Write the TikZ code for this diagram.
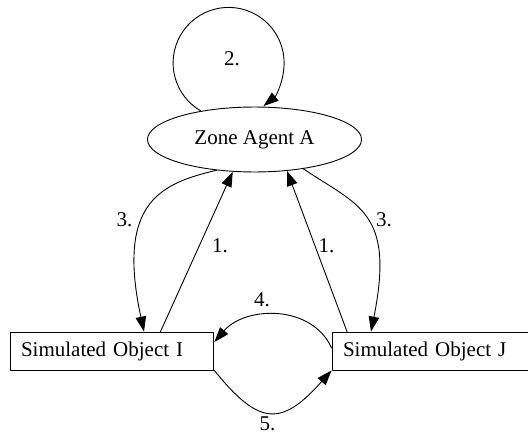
\documentclass[tikz,border=0pt]{standalone}
\usepackage{fontspec}
\setmainfont{Liberation Serif}
\usetikzlibrary{arrows.meta}
\usetikzlibrary{shapes.geometric}
\usetikzlibrary{calc}

\begin{document}
\begin{tikzpicture}[x=0.6667pt,y=0.6667pt,line cap=round,line join=round,>={Triangle[length=10pt,width=7pt]},
    every node/.style={font=\fontsize{14pt}{17pt}\selectfont},
    agentnode/.style={draw,ellipse,line width=0.6pt,minimum width=142.7pt,minimum height=43.3pt,inner sep=0pt},
    objnode/.style={draw,rectangle,line width=0.6pt,minimum height=25.3pt,inner xsep=7.3pt,inner ysep=0pt,align=left},
    msg/.style={->,line width=0.6pt},
    lbl/.style={inner sep=0pt}]
  \useasboundingbox (0,0) rectangle (528,434);
  \node[agentnode] (agent) at (254.5,294.5) {Zone Agent A};
  \node[objnode,text width=121.3pt] (objI) at (112,83) {Simulated Object I};
  \node[objnode,text width=116pt] (objJ) at (430,83) {Simulated Object J};
  % self loop
  \draw[msg] (agent.152) arc[start angle=240,end angle=-51,radius=55.5];
  \node[lbl] (lab2) at (232,375) {2.};
  % objects to agent
  \draw[msg] ($(objI.north)+(48.5,0)$) -- (agent.-124);
  \draw[msg] ($(objJ.north)+(-83,0)$) -- (agent.-44);
  \node[lbl] (lab1a) at (220,188.5) {1.};
  \node[lbl] (lab1b) at (326.5,188.5) {1.};
  % agent to objects
  \draw[msg] (agent.-141) .. controls +(-55,-13) and +(-28,130) .. ($(objI.north)+(32,0)$);
  \draw[msg] (agent.-31.5) .. controls +(55,-37) and +(24,120) .. ($(objJ.north)+(-59,0)$);
  \node[lbl] (lab3a) at (124.5,214.5) {3.};
  \node[lbl] (lab3b) at (384,214.5) {3.};
  % between objects
  \draw[msg] ($(objJ.west)+(0,3)$) .. controls +(-20,44) and +(31,36) .. ($(objI.east)+(0,9)$);
  \node[lbl] (lab4) at (262,134) {4.};
  \draw[msg] (objI.south east) .. controls +(45,-56) and +(-50,-56) .. (objJ.south west);
  \node[lbl] (lab5) at (267.5,10) {5.};
\end{tikzpicture}
\end{document}
